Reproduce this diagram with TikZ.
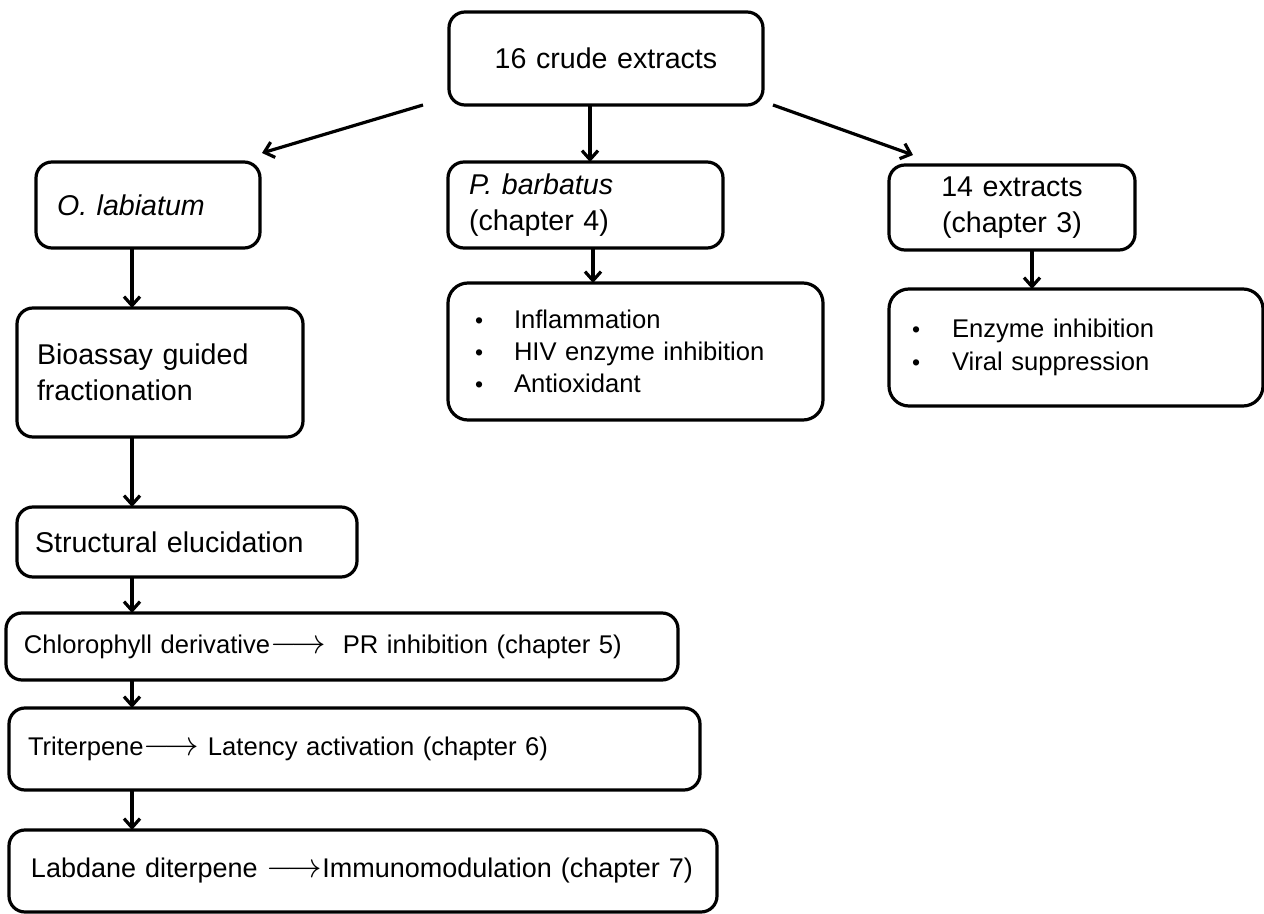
\documentclass[tikz,border=0pt]{standalone}
\usepackage{fontspec}
\setmainfont{Liberation Sans}
\newfontfamily\widesp[WordSpace=1.6]{Liberation Sans}
\usetikzlibrary{arrows.meta,calc}
\newcommand{\larr}{{\fontsize{17}{17}\selectfont$\longrightarrow$}}
\newcommand{\bul}[1][19.5pt]{\makebox[#1][l]{\raisebox{0.3pt}{\fontsize{11.5}{11.5}\selectfont •}}}
\begin{document}
\begin{tikzpicture}[x=0.5pt,y=-0.5pt,
  box/.style={draw, line width=1.6pt, rounded corners=8pt, outer sep=0pt, inner ysep=0pt, align=left},
  big/.style={font=\widesp\fontsize{14.3}{18}\selectfont},
  small/.style={font=\fontsize{12.8}{16}\selectfont},
  arr/.style={line width=1.6pt, -{Straight Barb[length=4.5pt,width=8pt]}},
]
\useasboundingbox (0,0) rectangle (1264,914);

\node[box,big,text width=136pt,inner xsep=10.5pt,minimum height=46.5pt,align=center] (top) at (606,58.5) {16 crude extracts};
\node[box,big,text width=91pt,inner xsep=10.5pt,minimum height=43pt] (olab) at (148,205) {\textit{O. labiatum}};
\node[box,big,text width=116.5pt,inner xsep=10.5pt,minimum height=43pt] (pbar) at (585.5,205) {\textit{P. barbatus}\\(chapter 4)};
\node[box,big,text width=102pt,inner xsep=10.5pt,minimum height=42.5pt,align=center] (ext) at (1012,207.5) {14 extracts\\(chapter 3)};
\node[box,small,text width=160.5pt,inner xsep=13.5pt,minimum height=68.5pt,rounded corners=10pt] (pbul) at (635.5,351.5)
  {\bul Inflammation\\\bul HIV enzyme inhibition\\\bul Antioxidant};
\node[box,small,text width=164pt,inner xsep=11.5pt,minimum height=58.5pt,rounded corners=10pt,font=\fontsize{12.8}{16.5}\selectfont] (ebul) at (1076,347.5)
  {\bul[20pt]Enzyme inhibition\\\bul[20pt]Viral suppression};
\node[box,big,text width=123pt,inner xsep=10pt,minimum height=64.5pt] (bio) at (160,372.5) {Bioassay guided\\fractionation};
\node[box,big,text width=152pt,inner xsep=9pt,minimum height=35pt] (struct) at (187,542) {Structural elucidation};
\node[box,small,text width=318pt,inner xsep=9pt,minimum height=33.5pt] (chl) at (342,646.5) {Chlorophyll derivative\larr\ \ PR inhibition (chapter 5)};
\node[box,small,text width=326.5pt,inner xsep=9.5pt,minimum height=41pt] (tri) at (354.5,749) {Triterpene\larr\ Latency activation (chapter 6)};
\node[box,font=\fontsize{13.5}{17}\selectfont,text width=332pt,inner xsep=11pt,minimum height=41pt] (lab) at (363,871) {Labdane diterpene \larr Immunomodulation (chapter 7)};

\coordinate (col) at (132,0);
\coordinate (c2) at (593,0);
\coordinate (c3) at (1032,0);
\coordinate (a2) at ($(pbar.north)+(4.5,0)$);

\draw[arr] ($(top.south west)+(-26,0)$) -- ($(olab.north east)+(2,-9)$);
\draw[arr] (top.south -| a2) -- (a2);
\draw[arr] ($(top.south east)+(10,0)$) -- ($(ext.north west)+(24,-10)$);
\draw[arr] (pbar.south -| c2) -- (pbul.north -| c2);
\draw[arr] (ext.south -| c3) -- (ebul.north -| c3);
\draw[arr] (olab.south -| col) -- (bio.north -| col);
\draw[arr] (bio.south -| col) -- (struct.north -| col);
\draw[arr] (struct.south -| col) -- (chl.north -| col);
\draw[arr] (chl.south -| col) -- (tri.north -| col);
\draw[arr] (tri.south -| col) -- (lab.north -| col);
\end{tikzpicture}
\end{document}
